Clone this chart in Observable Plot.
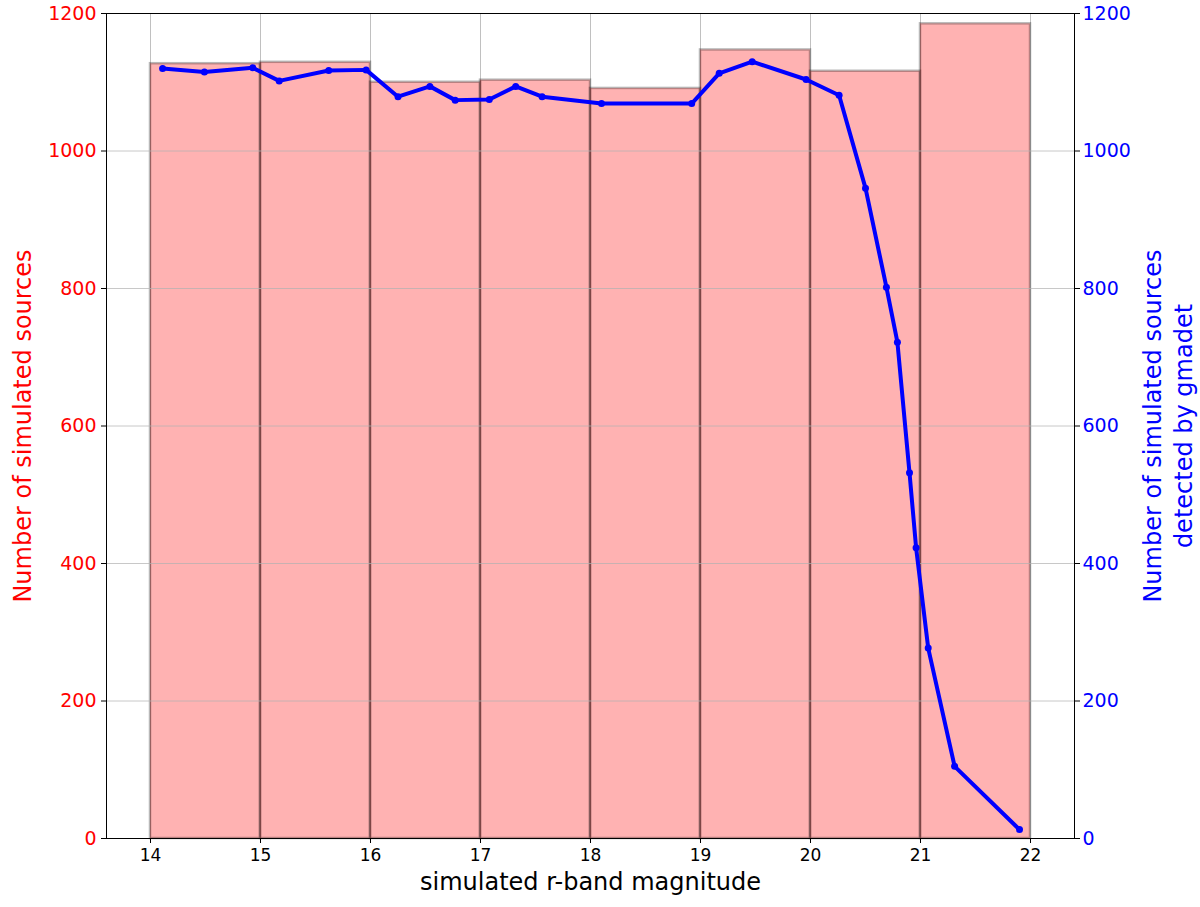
<!DOCTYPE html>
<html>
<head>
<meta charset="utf-8">
<script src="https://cdn.jsdelivr.net/npm/d3@7"></script>
<script src="https://cdn.jsdelivr.net/npm/@observablehq/plot@0.6"></script>
<style>
  html, body { margin: 0; padding: 0; background: #fff; }
  #chart svg { display: block; }
</style>
</head>
<body>
<div id="chart"></div>
<script>
// Histogram of simulated sources (bin edges and counts)
const binStarts = [14, 15, 16, 17, 18, 19, 20, 21];
const binEnds   = [15, 16, 17, 18, 19, 20, 21, 22];
const binCounts = [1127, 1129, 1100, 1103, 1091, 1147, 1116, 1185];

// Sources detected by gmadet
const detMag   = [14.11, 14.49, 14.93, 15.17, 15.62, 15.96, 16.25, 16.54, 16.77, 17.08, 17.32, 17.56, 18.10, 18.92, 19.17, 19.47, 19.96, 20.26, 20.50, 20.69, 20.79, 20.90, 20.96, 21.07, 21.31, 21.90];
const detCount = [1120, 1115, 1121, 1102, 1117, 1118, 1079, 1094, 1074, 1075, 1094, 1079, 1069, 1069, 1113, 1130, 1104, 1081, 946, 802, 722, 532, 423, 277, 105, 13];

const xTicks = [14, 15, 16, 17, 18, 19, 20, 21, 22];
const yTicks = [0, 200, 400, 600, 800, 1000, 1200];

const xLabel = "simulated r-band magnitude";
const yLabelLeft = "Number of simulated sources";
const yLabelRight = "Number of simulated sources\ndetected by gmadet";

const bins = binStarts.map((s, i) => ({x1: s, x2: binEnds[i], y: binCounts[i]}));
const det = detMag.map((m, i) => ({x: m, y: detCount[i]}));

const fmt = d => String(d);

const chart = Plot.plot({
  width: 1200,
  height: 907,
  marginLeft: 106,
  marginRight: 126,
  marginTop: 13,
  marginBottom: 69,
  style: {fontFamily: "DejaVu Sans", background: "#fff", overflow: "visible"},
  x: {domain: [13.6, 22.4], label: null},
  y: {domain: [0, 1200], label: null},
  marks: [
    Plot.gridX(xTicks, {stroke: "#b0b0b0", strokeOpacity: 1, strokeWidth: 0.8}),
    Plot.rectY(bins, {x1: "x1", x2: "x2", y: "y", fill: "red", fillOpacity: 0.3, stroke: "black", strokeOpacity: 0.28, strokeWidth: 2.5}),
    Plot.gridY(yTicks, {stroke: "#b0b0b0", strokeOpacity: 0.7, strokeWidth: 1}),
    Plot.line(det, {x: "x", y: "y", stroke: "blue", strokeWidth: 4}),
    Plot.dot(det, {x: "x", y: "y", fill: "blue", r: 3.5}),
    Plot.frame({stroke: "black", strokeWidth: 1}),
    Plot.axisX(xTicks, {anchor: "bottom", tickSize: 5, tickPadding: 5, stroke: "black", fill: "black", fontSize: 17, tickFormat: fmt, label: null}),
    Plot.axisY(yTicks, {anchor: "left", tickSize: 5, tickPadding: 5, stroke: "black", fill: "red", fontSize: 19, tickFormat: fmt, label: null}),
    Plot.axisY(yTicks, {anchor: "right", tickSize: 5, tickPadding: 3, stroke: "black", fill: "blue", fontSize: 19, tickFormat: fmt, label: null}),
    Plot.text([xLabel], {text: d => d, frameAnchor: "bottom", dy: 44, textAnchor: "middle", lineAnchor: "middle", fontSize: 24, fill: "black"}),
    Plot.text([yLabelLeft], {text: d => d, frameAnchor: "left", dx: -83, rotate: -90, textAnchor: "middle", lineAnchor: "middle", fontSize: 24, fill: "red"}),
    Plot.text([yLabelRight], {text: d => d, frameAnchor: "right", dx: 92, rotate: -90, textAnchor: "middle", lineAnchor: "middle", lineHeight: 1.3, fontSize: 24, fill: "blue"})
  ]
});
document.getElementById("chart").appendChild(chart);
</script>
</body>
</html>
